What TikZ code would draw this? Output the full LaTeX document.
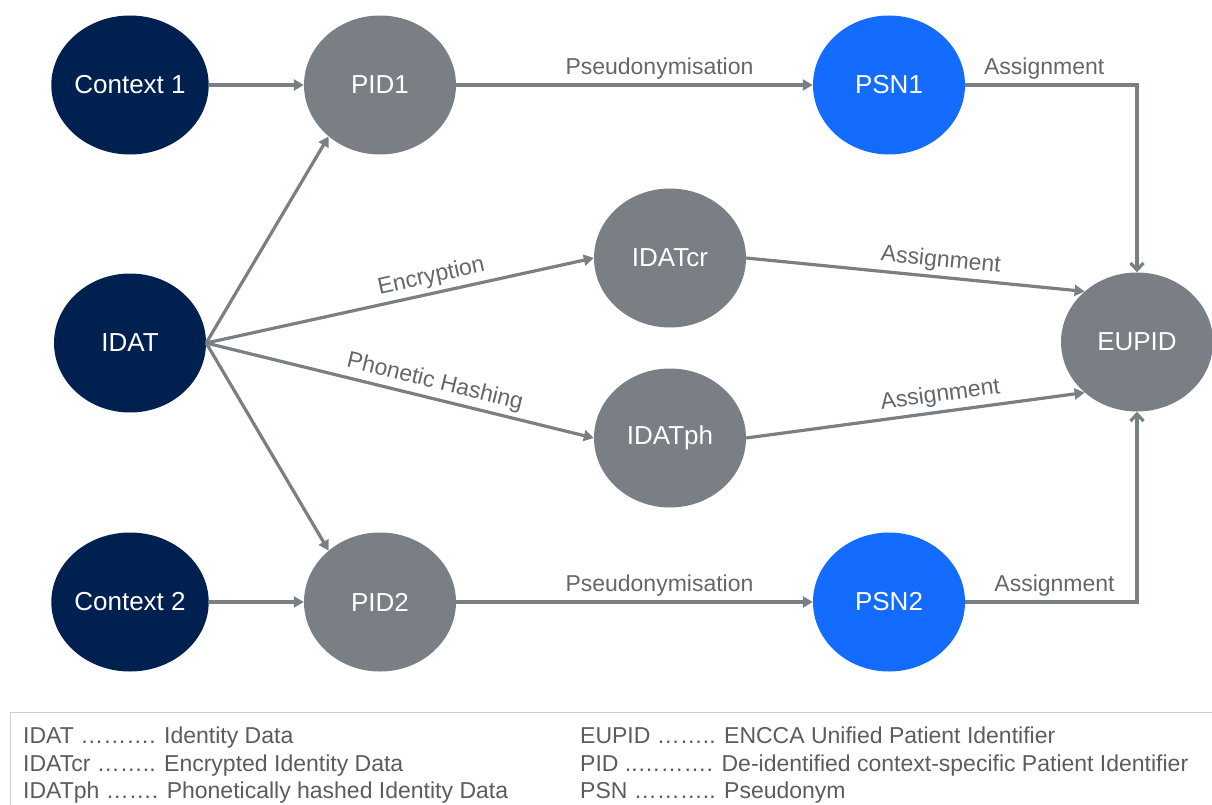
\documentclass[tikz,border=0pt]{standalone}
\usepackage{fontspec}
\setmainfont{Liberation Sans}
\usetikzlibrary{shapes.geometric,arrows.meta}
\definecolor{navy}{HTML}{00204F}
\definecolor{ngray}{HTML}{7A7F85}
\definecolor{nblue}{HTML}{146CFF}
\definecolor{lgray}{HTML}{7A7F85}
\definecolor{labgray}{HTML}{63676C}
\definecolor{legtext}{HTML}{5C5C5C}
\definecolor{legborder}{HTML}{CFCFCF}
\begin{document}
\begin{tikzpicture}[x=1pt,y=-1pt,
  circ/.style={ellipse, minimum width=152pt, minimum height=139pt, inner sep=0pt, text=white, font=\fontsize{26}{30}\selectfont},
  ctx/.style={circ, fill=navy},
  gnode/.style={circ, fill=ngray},
  bnode/.style={circ, fill=nblue},
  conn/.style={draw=lgray, line width=3.2pt, -{Triangle[length=10pt,width=11pt]}},
  bconn/.style={draw=lgray, line width=3.2pt, -{Straight Barb[length=7pt,width=13pt]}},
  lab/.style={text=labgray, font=\fontsize{23}{27}\selectfont, above=2pt, inner sep=2pt},
  leg/.style={text=legtext, font=\fontsize{23}{27}\selectfont, anchor=base west, inner sep=0pt}
]
\useasboundingbox (0,0) rectangle (1212,805);

\node[ctx] (c1) at (130,85) {Context 1};
\node[gnode] (pid1) at (380,85) {PID1};
\node[bnode] (psn1) at (889,85) {PSN1};
\node[ctx] (idat) at (130,343) {IDAT};
\node[gnode] (cr) at (670,258) {IDATcr};
\node[gnode] (ph) at (670,438) {IDATph};
\node[gnode] (eu) at (1137,342) {EUPID};
\node[ctx] (c2) at (130,602) {Context 2};
\node[gnode] (pid2) at (380,602) {PID2};
\node[bnode] (psn2) at (889,602) {PSN2};

\draw[conn] (c1) -- (pid1);
\draw[conn] (pid1) -- node[lab, pos=0.57]{Pseudonymisation} (psn1);
\draw[bconn] (psn1.east) -| node[lab,pos=0.23]{Assignment} (eu.north);
\draw[conn] (idat.east) -- (pid1.225);
\draw[conn] (idat.east) -- node[lab,sloped,pos=0.59]{Encryption} (cr.west);
\draw[conn] (idat.east) -- node[lab,sloped,pos=0.58]{Phonetic Hashing} (ph.west);
\draw[conn] (idat.east) -- (pid2.135);
\draw[conn] (c2) -- (pid2);
\draw[conn] (pid2) -- node[lab,pos=0.57]{Pseudonymisation} (psn2);
\draw[bconn] (psn2.east) -| node[lab,pos=0.26]{Assignment} (eu.south);
\draw[conn] (cr.east) -- node[lab,sloped,pos=0.57]{Assignment} (eu.136);
\draw[conn] (ph.east) -- node[lab,sloped,pos=0.58]{Assignment} (eu.224);

\draw[legborder, line width=1pt] (1212,712) -- (10,712) -- (10,805);
\node[leg] (l1) at (23,743) {IDAT ………. Identity Data};
\node[leg] (l2) at (23,771) {IDATcr …….. Encrypted Identity Data};
\node[leg] (l3) at (23,798) {IDATph ……. Phonetically hashed Identity Data};
\node[leg] (r1) at (580,743) {EUPID …….. ENCCA Unified Patient Identifier};
\node[leg] (r2) at (580,771) {PID ..………. De-identified context-specific Patient Identifier};
\node[leg] (r3) at (580,798) {PSN ……….. Pseudonym};
\end{tikzpicture}
\end{document}
